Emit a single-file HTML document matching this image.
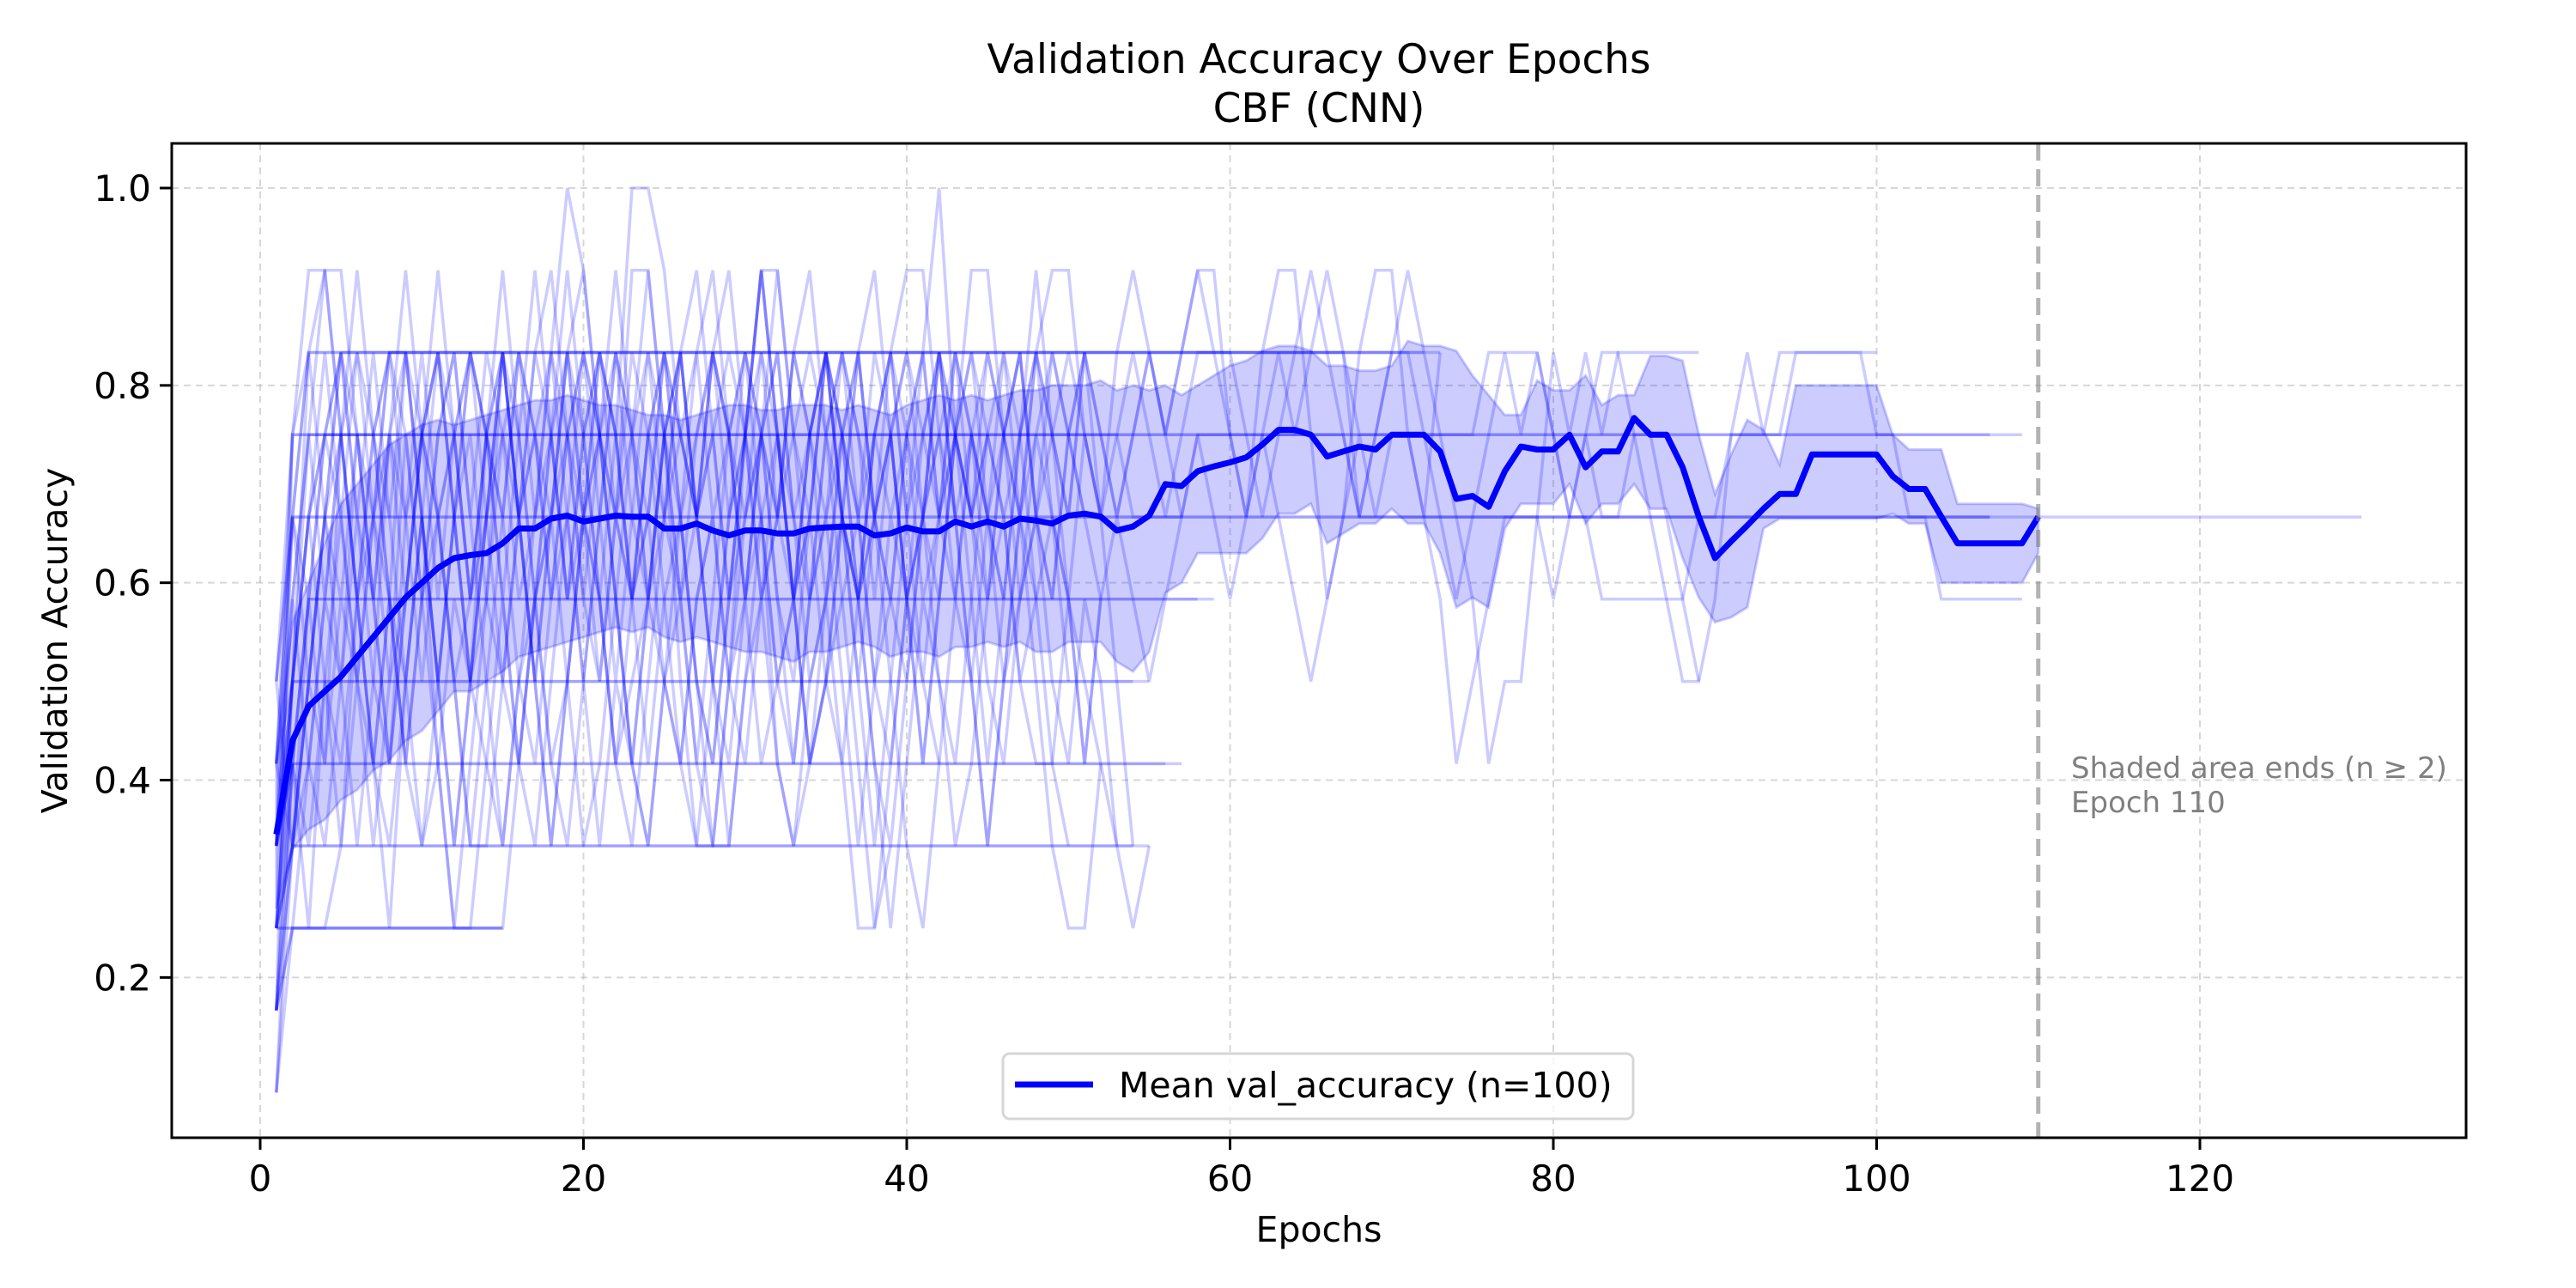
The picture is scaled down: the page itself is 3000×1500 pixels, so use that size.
<!DOCTYPE html>
<html><head><meta charset="utf-8">
<style>
html,body{margin:0;padding:0;background:#fff;}
svg{display:block;}
text{font-family:"DejaVu Sans","Liberation Sans",sans-serif;}
</style></head>
<body>
<svg id="chart" width="3000" height="1500" viewBox="0 0 3000 1500" xmlns="http://www.w3.org/2000/svg">
<rect x="0" y="0" width="3000" height="1500" fill="#fff"/>
<g id="grid"></g>
<g id="runs"></g>
<g id="band"></g>
<g id="meang"></g>
<g id="axes"></g>
<text x="1536" y="85" font-size="47" text-anchor="middle">Validation Accuracy Over Epochs</text>
<text x="1536" y="142" font-size="47" text-anchor="middle">CBF (CNN)</text>
<text x="1536" y="1446" font-size="41" text-anchor="middle">Epochs</text>
<text x="0" y="0" font-size="41" text-anchor="middle" transform="translate(78,746) rotate(-90)">Validation Accuracy</text>
<text x="2412" y="906" font-size="34" fill="#808080">Shaded area ends (n ≥ 2)</text>
<text x="2412" y="946" font-size="34" fill="#808080">Epoch 110</text>
<g>
<rect x="1168" y="1227" width="734" height="76" rx="8" fill="#fff" fill-opacity="0.8" stroke="#d6d6d6" stroke-width="3"/>
<line x1="1182" y1="1263" x2="1273" y2="1263" stroke="#0000ff" stroke-width="7"/>
<text x="1303" y="1278" font-size="41">Mean val_accuracy (n=100)</text>
</g>
</svg>
<script>
const meanValues=[0.345,0.44,0.475,0.49,0.505,0.525,0.545,0.565,0.585,0.6,0.615,0.625,0.628,0.63,0.64,0.655,0.655,0.665,0.668,0.662,0.665,0.668,0.667,0.667,0.655,0.655,0.66,0.653,0.648,0.653,0.653,0.65,0.65,0.655,0.656,0.657,0.657,0.648,0.65,0.656,0.652,0.652,0.662,0.657,0.662,0.657,0.665,0.663,0.66,0.668,0.67,0.667,0.653,0.657,0.668,0.70,0.698,0.713,0.718,0.722,0.727,0.74,0.755,0.755,0.75,0.728,0.733,0.738,0.735,0.75,0.75,0.75,0.733,0.685,0.688,0.677,0.713,0.738,0.735,0.735,0.75,0.717,0.733,0.733,0.767,0.75,0.75,0.717,0.667,0.625,0.642,0.658,0.675,0.69,0.69,0.73,0.73,0.73,0.73,0.73,0.708,0.695,0.695,0.667,0.64,0.64,0.64,0.64,0.64,0.667];
const upperValues=[0.42,0.56,0.6,0.64,0.68,0.7,0.72,0.74,0.75,0.76,0.765,0.76,0.765,0.77,0.775,0.78,0.785,0.785,0.79,0.785,0.78,0.78,0.775,0.77,0.77,0.765,0.77,0.775,0.78,0.78,0.775,0.775,0.78,0.78,0.78,0.775,0.78,0.775,0.77,0.78,0.785,0.79,0.785,0.79,0.785,0.79,0.795,0.795,0.8,0.8,0.8,0.805,0.795,0.8,0.795,0.8,0.79,0.8,0.81,0.82,0.825,0.835,0.84,0.84,0.835,0.82,0.82,0.815,0.815,0.82,0.845,0.84,0.84,0.835,0.81,0.79,0.77,0.77,0.805,0.795,0.795,0.81,0.78,0.79,0.79,0.83,0.83,0.825,0.75,0.69,0.73,0.765,0.755,0.72,0.8,0.8,0.8,0.8,0.8,0.8,0.75,0.735,0.735,0.735,0.68,0.68,0.68,0.68,0.68,0.675];
const lowerValues=[0.27,0.33,0.35,0.36,0.38,0.39,0.41,0.42,0.44,0.45,0.47,0.49,0.49,0.50,0.51,0.525,0.53,0.535,0.54,0.545,0.55,0.555,0.55,0.555,0.545,0.54,0.545,0.54,0.535,0.53,0.53,0.525,0.52,0.53,0.53,0.535,0.54,0.535,0.525,0.53,0.53,0.525,0.535,0.535,0.54,0.535,0.54,0.53,0.53,0.54,0.54,0.54,0.52,0.51,0.53,0.59,0.6,0.63,0.63,0.63,0.63,0.645,0.67,0.67,0.68,0.64,0.65,0.66,0.66,0.675,0.66,0.66,0.63,0.575,0.585,0.575,0.655,0.68,0.68,0.68,0.7,0.66,0.68,0.68,0.7,0.675,0.675,0.625,0.585,0.56,0.565,0.575,0.655,0.665,0.665,0.665,0.665,0.665,0.665,0.665,0.67,0.66,0.66,0.6,0.6,0.6,0.6,0.6,0.6,0.63];
// individual runs, values in twelfths, starting at epoch 1 ("v*n" = v repeated n times)
const runValues=[
"5,8*129",
"4,7,9*5,10*60,9*8,10*4,9,8*10,9*4,10*5,9*2,8*6",
"3,6,8,9*50,8*4,9*10,8*15,7*6,8*15,7*6",
"5,9,10*70",
"4,6,8,9,10*69",
"3,6,10*68",
"2,4,7*57",
"4,5,7*56",
"3,6*53",
"5,6*54",
"1,5*56",
"4,5*55",
"2,4*54",
"3,4*53",
"2,9*108",
"4,9*106",
"6,8*106",
"3*15",
"2,3*14",
"3*15,5,7,9,11,9,7,9,12,12,11,9,8,10,11,9,7,8,10,11,9,8,7,8,10,11,11,9,8",
"4,6,8,10,8,6,8,10,8,9,11,9,7,9,10,8,6,8,10,11,9,7,5,7,9,10,8,6,8,9,11,9,7,5,6,8,10,11,9,7,8,10,8,6,4,6,8,10,9,8,10,8,6,4",
"2,3,5,7,9,11,9,7,5,7,9,10,8,6,4,6,8,10,12,11,9,7,5,4,6,8,10,11,9,7,8,9,7,5,6,8,10,8,6,4,3,5,7,9,8,10,9,7,5,4",
"6,9,11,11,9,7,5,7,10,8,6,4,6,9,11,9,7,8,10,8,6,8,11,11,9,6,4,4,6,9,11,9,7,9,10,8,6,4,6,8,10,12,9,7,5,7,9,11,9,7,5,7",
"3,5,4,6,8,6,4,6,9,7,5,3,5,7,10,8,6,8,10,9,7,5,7,9,7,5,4,6,8,10,8,6,5,7,9,7,5,3,5,7,8,10,8,6,4,6,8,6,4,3,3,5",
"4,8,10,11,11,9,7,9,11,9,7,9,10,8,6,8,10,11,9,7,9,11,9,7,8,10,11,9,7,9,11,11,9,7,8,10,9,7,9,10,8,7,9,11,11,9,8,10,11,11,9,8,10,11,10,9,10,11,11,9,8,10,11,11,9,7,8,10,11,11,9,8,10",
"2,6,8,6,5,7,9,7,5,7,8,6,4,4,6,8,6,4,6,8,7,5,4,6,8,10,8,6,4,6,7,5,4,5,7,9,7,5,4,6,8,6,5,7,9,8,6,5,5,7,6,5,4,3,4",
"5,7,9,11,9,7,9,10,10,8,6,8,10,9,7,9,11,9,7,9,10,8,9,11,9,7,8,10,9,7,9,11,9,8,10,9,7,9,10,8,6,8,10,9,7,9,10,8,7,9,10,9,8,9,10,9,10,11,10,9,8,9,10,9,10,11,10,8,9,10,11,10,9,8,7,5,6,6,8,10,9,10,9,10,10,10,10,10,10",
"1,4,6,8,7,9,8,6,7,9,10,8,6,7,9,8,10,9,7,8,9,10,8,7,9,10,8,9,10,9,7,8,10,9,8,9,10,8,7,9,8,9,10,9,8,9,10,8,9,10,9,8,9,10,9,8,9,10,10,10,9,8,9,10,11,10,9,8,9,10,10,9,8,7,8,9,10,9,10,9,8,9,10,10,9,8,7,6,6,7,9,10,9,10,10,10,10,10,10,10",
"3,4,6,5,7,6,8,7,5,4,6,8,9,7,6,5,7,8,6,4,5,7,9,8,6,5,7,8,6,5,7,9,8,6,7,8,7,5,3,5,7,6,4,5,7,8,6,7,8,7,5,7,8,7,6,7,8,9,8,7,8,9,8,7,6,7,8,9,8,9,9,8,7,5,6,7,8,8,8,7,8,9,8,8,9,9,8,7,6",
"4,5,7,9,8,10,9,8,10,9,8,9,10,9,8,10,9,8,9,10,9,8,10,9,8,9,10,8,9,10,9,8,9,10,9,10,9,8,9,10,9,8,9,10,9,8,9,10,9,8,10,9,8,9,10,9,8",
"2,5,3,6,4,7,5,3,6,8,5,3,3,5,7,5,4,6,8,6,4,6,5,4,6,7,5,4,4,6,8,5,4,6,7,5,3,3,4",
"6,8,7,9,10,8,7,9,8,6,8,9,7,8,10,8,9,7,8,10,9,8,7,8,10,9,8,9,7,8,9,10,8,9,10,8,7,9,8,9,10,8,9,8,10,9,8,9,10,9,8,7",
"1,3,3,3,4,6,5,7,6,4,5,7,6,5,4,6,7,5,6,8,7,5,6,7,6,5,7,8,6,7,5,6,7,5,6,7,8,6,5,7,6,5",
"5,4,6,8,10,9,7,5,7,9,10,8,6,8,10,9,7,5,4,6,8,10,9,7,9,10,8,6,5,7,9,10,8,7,9,10,8,6,7,9,10,8,7,9,8,7,9,10,8,7,9,8",
"4,7,5,4,6,9,7,5,8,10,8,6,4,6,8,10,9,7,9,10,8,6,8,10,9,7,5,7,9,10,9,7,6,8,10,8,6,8,9,7,5,7,9,10,8,6,7,9,8,6",
"3,8,10,8,6,4,6,9,10,8,6,8,10,9,7,5,7,9,10,8,10,9,7,9,10,8,6,5,7,9,11,9,7,9,10,8,7,9,10,9,7,8,10,8,7,9,10,8,7,9,10",
"2,5,7,5,9,7,5,4,6,8,6,4,6,8,10,8,6,4,6,8,9,7,5,7,9,8,6,4,6,8,9,7,5,7,8,6,4,6,8,7,5,7,9,8,6,5,7,8,6,5,7,6,4",
"6,4,6,8,10,8,10,8,6,8,10,9,7,9,10,8,9,10,8,6,8,10,9,10,8,7,9,10,8,9,10,8,7,9,10,9,8,10,9,7,9,10,8,9,10,9,7,8,10,9,8",
"4,6,9,7,9,10,8,9,7,9,10,8,6,8,9,10,8,9,7,9,10,9,7,8,10,9,8,10,9,7,9,8,10,9,7,9,10,8,9,7,8,10,9,8,9,10,8,7",
"3,4,5,7,6,8,6,5,7,9,8,6,7,9,8,6,5,7,9,7,6,8,7,5,7,8,6,5,7,9,8,6,7,8,6,5,7,8,7,6,8,9,7,6,8,7",
"5,8,6,8,9,7,8,10,9,7,9,10,8,10,9,7,8,10,9,8,10,9,7,9,10,8,9,10,9,8,10,9,7,8,10,9,8,9,10,8,9,10,9,8,9"
];
const xTickLabels=["0","20","40","60","80","100","120"];
const xTickValues=[0,20,40,60,80,100,120];
const yTickLabels=["0.2","0.4","0.6","0.8","1.0"];
const yTickValues=[0.2,0.4,0.6,0.8,1.0];
const shadeEndEpoch=110;

const NS="http://www.w3.org/2000/svg";
const L=200,R=2872,T=167,B=1325;
function xs(e){return 303+(e)*18.825;}
function ys(v){return 219+(1-v)*1149.2;}
function mk(tag,attrs,parent){const el=document.createElementNS(NS,tag);for(const k in attrs)el.setAttribute(k,attrs[k]);parent.appendChild(el);return el;}
function expand(s){const out=[];s.split(",").forEach(t=>{const p=t.split("*");const v=+p[0]/12;const n=p.length>1?+p[1]:1;for(let i=0;i<n;i++)out.push(v);});return out;}

const grid=document.getElementById("grid");
xTickValues.forEach(v=>{const l=mk("line",{x1:xs(v),x2:xs(v),y1:T,y2:B,stroke:"#b0b0b0","stroke-opacity":"0.5","stroke-width":2,"stroke-dasharray":"8,6"},grid);

});
yTickValues.forEach(v=>{const l=mk("line",{x1:L,x2:R,y1:ys(v),y2:ys(v),stroke:"#b0b0b0","stroke-opacity":"0.5","stroke-width":2,"stroke-dasharray":"8,6"},grid);

});

const runsG=document.getElementById("runs");
runValues.forEach(s=>{const vals=expand(s);const pts=vals.map((v,i)=>xs(i+1).toFixed(1)+","+ys(v).toFixed(1)).join(" ");
const p=mk("polyline",{points:pts,fill:"none",stroke:"#0000ff","stroke-opacity":"0.2","stroke-width":3.5},runsG);

});

const bandG=document.getElementById("band");
let d="";upperValues.forEach((v,i)=>{d+=(i?"L":"M")+xs(i+1).toFixed(1)+","+ys(v).toFixed(1);});
for(let i=lowerValues.length-1;i>=0;i--)d+="L"+xs(i+1).toFixed(1)+","+ys(lowerValues[i]).toFixed(1);d+="Z";
const band=mk("path",{d:d,fill:"#0000ff","fill-opacity":"0.2",stroke:"#0000ff","stroke-opacity":"0.2","stroke-width":3},bandG);



const meanG=document.getElementById("meang");
const mp=mk("polyline",{points:meanValues.map((v,i)=>xs(i+1).toFixed(1)+","+ys(v).toFixed(1)).join(" "),fill:"none",stroke:"#0000ff","stroke-width":7,"stroke-linejoin":"round"},meanG);



const ax=document.getElementById("axes");
const vl=mk("line",{x1:xs(shadeEndEpoch),x2:xs(shadeEndEpoch),y1:T,y2:B,stroke:"#808080","stroke-opacity":"0.6","stroke-width":5,"stroke-dasharray":"20,10"},ax);


const fr=mk("rect",{x:L,y:T,width:R-L,height:B-T,fill:"none",stroke:"#000","stroke-width":3},ax);


xTickValues.forEach((v,i)=>{const t=mk("line",{x1:xs(v),x2:xs(v),y1:B,y2:B+14,stroke:"#000","stroke-width":3},ax);


const tx=mk("text",{x:xs(v),y:B+62,"font-size":42,"text-anchor":"middle"},ax);tx.textContent=xTickLabels[i];

});
yTickValues.forEach((v,i)=>{const t=mk("line",{x1:L-14,x2:L,y1:ys(v),y2:ys(v),stroke:"#000","stroke-width":3},ax);


const tx=mk("text",{x:L-24,y:ys(v)+15,"font-size":42,"text-anchor":"end"},ax);tx.textContent=yTickLabels[i];

});
</script>
</body></html>
